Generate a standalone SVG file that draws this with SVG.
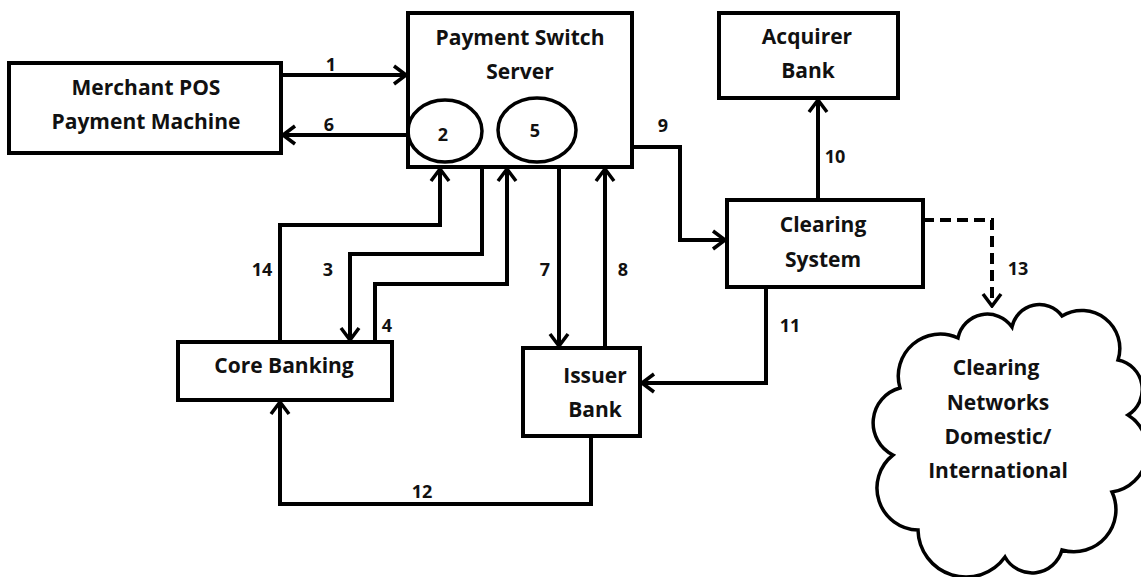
<svg xmlns="http://www.w3.org/2000/svg" width="1141" height="577" viewBox="0 0 1141 577">
<style>
.box{fill:#fff;stroke:#000;stroke-width:4}
.ell{fill:none;stroke:#000;stroke-width:3.5}
.t{font-family:"Open Sans",Lato,sans-serif;font-weight:bold;font-size:21px;fill:#111;text-anchor:middle}
.n{font-family:"Open Sans",Lato,sans-serif;font-weight:bold;font-size:18px;fill:#111;text-anchor:middle}
.c{fill:none;stroke:#000;stroke-width:4;stroke-linejoin:miter}
.d{fill:none;stroke:#000;stroke-width:4;stroke-dasharray:11 6}
</style>
<defs>
<marker id="ah" viewBox="0 0 16 22" refX="14" refY="11" markerWidth="16" markerHeight="22" markerUnits="userSpaceOnUse" orient="auto">
<path d="M2,2 L14,11 L2,20" fill="none" stroke="#000" stroke-width="3.5"/>
</marker>
</defs>
<rect width="1141" height="577" fill="#fff"/>
<g id="connectors">
<path class="c" d="M281,75 H406" marker-end="url(#ah)"/>
<path class="c" d="M408,135 H283" marker-end="url(#ah)"/>
<path class="c" d="M280,342 V225 H440 V169" marker-end="url(#ah)"/>
<path class="c" d="M482,167 V254 H350 V340" marker-end="url(#ah)"/>
<path class="c" d="M375,342 V284 H507 V169" marker-end="url(#ah)"/>
<path class="c" d="M559,167 V346" marker-end="url(#ah)"/>
<path class="c" d="M605,346 V169" marker-end="url(#ah)"/>
<path class="c" d="M632,147 H680 V240 H725" marker-end="url(#ah)"/>
<path class="c" d="M818,200 V100" marker-end="url(#ah)"/>
<path class="c" d="M766,287 V383 H642" marker-end="url(#ah)"/>
<path class="c" d="M591,436 V504 H280 V402" marker-end="url(#ah)"/>
<path class="d" d="M923,220 H992 V306" marker-end="url(#ah)"/>
<text class="n" x="331" y="71">1</text>
<text class="n" x="329" y="131">6</text>
<text class="n" x="262" y="276">14</text>
<text class="n" x="328" y="276">3</text>
<text class="n" x="387" y="332">4</text>
<text class="n" x="545" y="276">7</text>
<text class="n" x="623" y="276">8</text>
<text class="n" x="663" y="132">9</text>
<text class="n" x="835" y="163">10</text>
<text class="n" x="790" y="332">11</text>
<text class="n" x="422" y="498">12</text>
<text class="n" x="1018" y="275">13</text>
</g>
<g id="merchant">
<rect class="box" x="9" y="63" width="272" height="90"/>
<text class="t" x="146" y="95">Merchant POS</text>
<text class="t" x="146" y="129">Payment Machine</text>
</g>
<g id="switch">
<rect class="box" x="408" y="13" width="224" height="154"/>
<text class="t" x="520" y="45">Payment Switch</text>
<text class="t" x="520" y="79">Server</text>
<ellipse class="ell" cx="445" cy="131" rx="37" ry="31"/>
<text class="n" x="443" y="141">2</text>
<ellipse class="ell" cx="537" cy="130" rx="39" ry="32"/>
<text class="n" x="535" y="137">5</text>
</g>
<g id="acquirer">
<rect class="box" x="719" y="13" width="179" height="85"/>
<text class="t" x="807" y="44">Acquirer</text>
<text class="t" x="808" y="78">Bank</text>
</g>
<g id="clearing">
<rect class="box" x="727" y="200" width="196" height="87"/>
<text class="t" x="823" y="232">Clearing</text>
<text class="t" x="823" y="267">System</text>
</g>
<g id="core">
<rect class="box" x="178" y="342" width="214" height="58"/>
<text class="t" x="284" y="373">Core Banking</text>
</g>
<g id="issuer">
<rect class="box" x="523" y="348" width="117" height="88"/>
<text class="t" x="595" y="383">Issuer</text>
<text class="t" x="595" y="417">Bank</text>
</g>
<g id="cloud">
<path fill="#fff" stroke="#000" stroke-width="3.5" d="M958,338 A30,30 0 0 1 1012,327 A28,28 0 0 1 1062,316 A38,38 0 0 1 1118,360 A30,30 0 0 1 1128,415 A42,42 0 0 1 1112,492 A42,42 0 0 1 1062,550 A31,31 0 0 1 1005,557 A48,48 0 0 1 918,530 A42,42 0 0 1 893,455 A36,36 0 0 1 900,388 A42,42 0 0 1 958,338 Z"/>
<text class="t" x="996" y="375">Clearing</text>
<text class="t" x="998" y="410">Networks</text>
<text class="t" x="998" y="444">Domestic/</text>
<text class="t" x="998" y="478">International</text>
</g>
</svg>
